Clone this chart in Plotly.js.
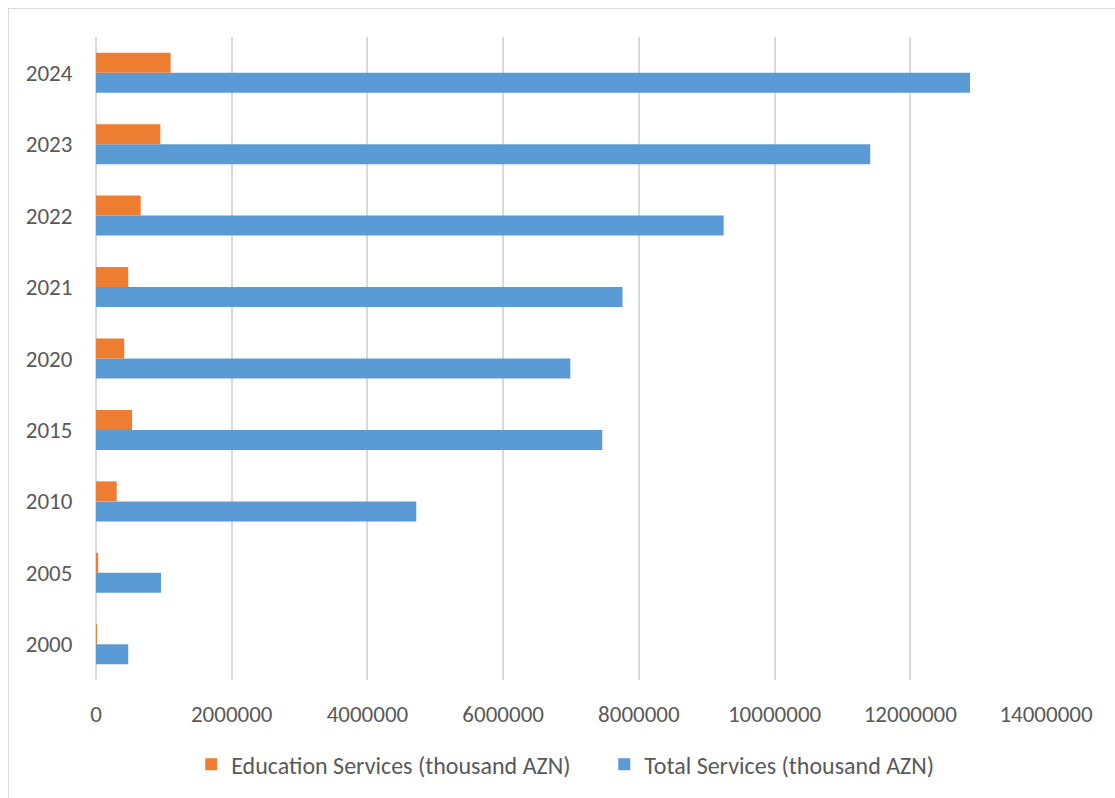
<!DOCTYPE html>
<html>
<head>
<meta charset="utf-8">
<script src="https://cdn.plot.ly/plotly-3.0.1.min.js"></script>
<style>
  html, body { margin: 0; padding: 0; background: #fff; }
  #wrap { position: relative; width: 1115px; height: 798px; }
  #chart { width: 1115px; height: 798px; }
  #frame { position: absolute; left: 8px; top: 8px; right: -2px; bottom: -2px;
           border-left: 1px solid #d9d9d9; border-top: 1px solid #d9d9d9; pointer-events: none; }
</style>
</head>
<body>
<div id="wrap">
  <div id="chart"></div>
  <div id="frame"></div>
</div>
<script>
const years = ['2000', '2005', '2010', '2015', '2020', '2021', '2022', '2023', '2024'];
const educationServices = [13000, 32000, 305000, 532000, 416000, 475000, 659000, 948000, 1100000];
const totalServices = [475000, 958000, 4720000, 7460000, 6990000, 7760000, 9250000, 11410000, 12880000];
const xTicks = [0, 2000000, 4000000, 6000000, 8000000, 10000000, 12000000, 14000000];
const xTickLabels = ['0', '2000000', '4000000', '6000000', '8000000', '10000000', '12000000', '14000000'];

const fontFamily = "Carlito, 'Liberation Sans Narrow', 'Open Sans', sans-serif";
const textColor = '#595959';

const traces = [
  {
    type: 'bar', orientation: 'h', name: 'Total Services (thousand AZN)',
    y: years, x: totalServices, marker: { color: '#5B9BD5' }, hoverinfo: 'x+y+name'
  },
  {
    type: 'bar', orientation: 'h', name: 'Education Services (thousand AZN)',
    y: years, x: educationServices, marker: { color: '#ED7D31' }, hoverinfo: 'x+y+name'
  }
];

const layout = {
  width: 1115, height: 798,
  margin: { l: 96, r: 69, t: 37, b: 117 },
  paper_bgcolor: '#ffffff', plot_bgcolor: '#ffffff',
  font: { family: fontFamily, size: 23, color: textColor },
  barmode: 'group', bargap: 0.44, bargroupgap: 0,
  showlegend: true,
  legend: {
    orientation: 'h', x: 0.535, xanchor: 'center', y: -0.13, yanchor: 'middle',
    traceorder: 'reversed', entrywidth: 368, entrywidthmode: 'pixels',
    font: { family: fontFamily, size: 24, color: textColor }
  },
  xaxis: {
    range: [0, 14000000], tickmode: 'array', tickvals: xTicks, ticktext: xTickLabels,
    showgrid: true, gridcolor: '#d9d9d9', gridwidth: 1.5,
    zeroline: true, zerolinecolor: '#d9d9d9', zerolinewidth: 1.5,
    showline: false, ticks: 'outside', ticklen: 13, tickcolor: 'rgba(0,0,0,0)',
    tickfont: { family: fontFamily, size: 23, color: textColor }, fixedrange: true
  },
  yaxis: {
    type: 'category', categoryorder: 'array', categoryarray: years,
    showgrid: false, zeroline: false, showline: false,
    ticks: 'outside', ticklen: 18, tickcolor: 'rgba(0,0,0,0)',
    tickfont: { family: fontFamily, size: 23, color: textColor }, fixedrange: true
  }
};

Plotly.newPlot('chart', traces, layout, { displayModeBar: false });
</script>
</body>
</html>
